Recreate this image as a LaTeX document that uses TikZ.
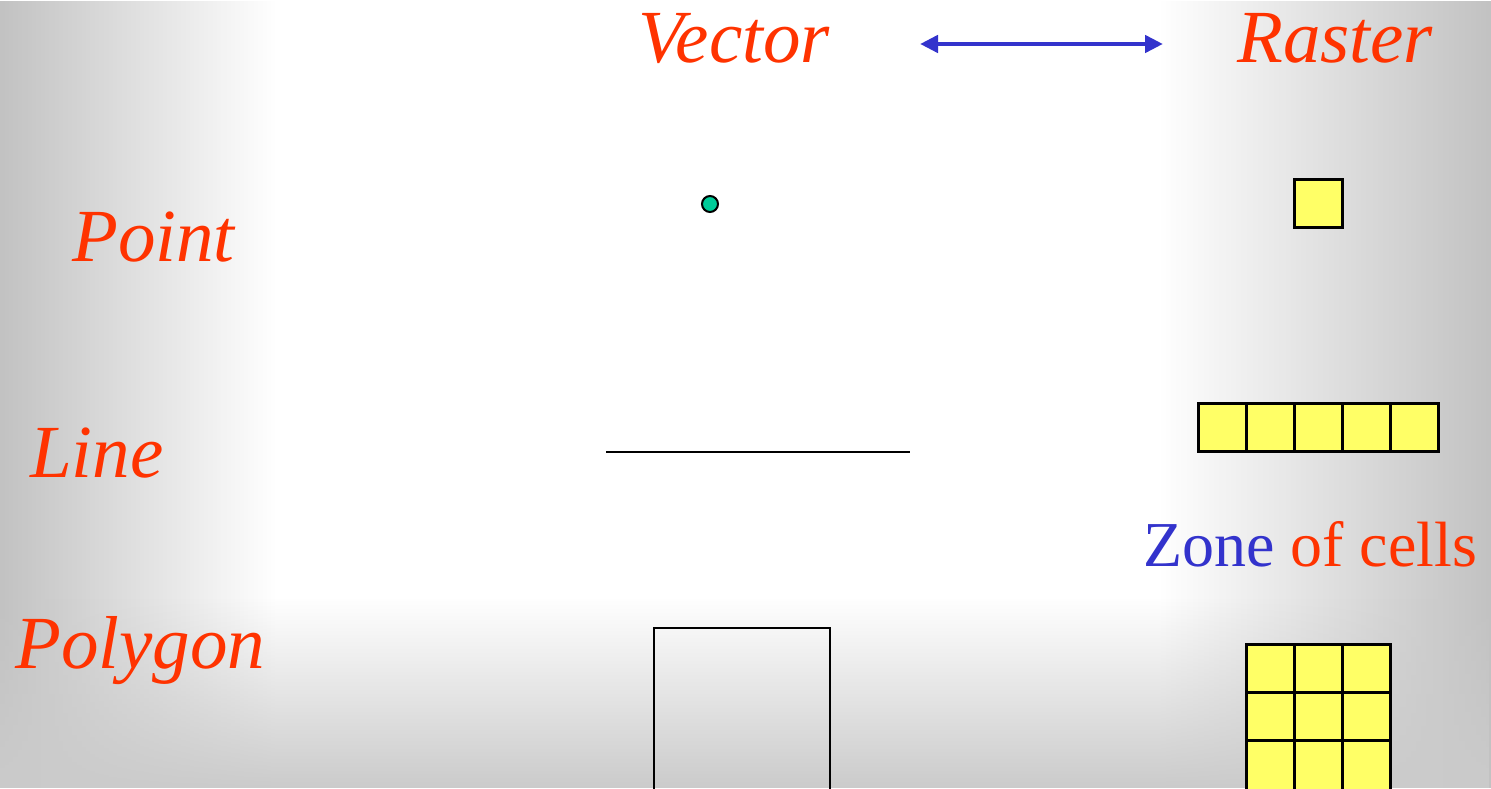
\documentclass[tikz,border=0pt]{standalone}
\usepackage{fontspec}
\setmainfont{Liberation Serif}
\usepackage{xcolor}
\usetikzlibrary{arrows.meta,fadings}

\definecolor{lblred}{HTML}{FF3300}
\definecolor{arrowblue}{HTML}{3333CC}
\definecolor{cellyellow}{HTML}{FFFF66}
\definecolor{dotgreen}{HTML}{00CC99}
\definecolor{edgegray}{gray}{0.76}

\tikzfading[name=fade right,left color=transparent!0,right color=transparent!100]
\tikzfading[name=fade left,left color=transparent!100,right color=transparent!0]
\tikzfading[name=fade top,top color=transparent!100,bottom color=transparent!0]

\begin{document}
\begin{tikzpicture}[x=1pt,y=1pt,>={Triangle[length=18pt,width=17pt]},
  every node/.style={inner sep=0pt},
  lbl/.style={anchor=base west,text=lblred,font=\fontsize{75}{80}\selectfont\itshape},
  cell/.style={draw=black,fill=cellyellow,line width=3pt}]
\useasboundingbox (0,0) rectangle (1491,788);
% background
\fill[white] (0,0) rectangle (1491,788);
\fill[edgegray,path fading=fade right] (0,0) rectangle (275,788);
\fill[edgegray,path fading=fade left] (1160,0) rectangle (1491,788);
\fill[edgegray!85,path fading=fade top] (0,0) rectangle (1491,190);
% headings
\node[lbl] (vector) at (638,725) {Vector};
\node[lbl] (raster) at (1237,725) {Raster};
\coordinate (aL) at (920,744);
\coordinate (aR) at (1163,744);
\draw[<->,arrowblue,line width=4.5pt] (aL) -- (aR);
% row labels
\node[lbl] (point) at (72,526) {Point};
\node[lbl] (line) at (30,310) {Line};
\node[lbl] (polygon) at (15,120) {Polygon};
% vector side
\node[circle,draw=black,fill=dotgreen,line width=2pt,minimum size=16pt] (dot) at (710,584) {};
\coordinate (l0) at (606,336);
\coordinate (l1) at (910,336);
\draw[line width=2.5pt] (l0) -- (l1);
\draw[line width=2pt] (654,-6) rectangle (830,160);
% raster side
\draw[cell] (1294,560) rectangle (1342,608);
\draw[cell] (1198,336) rectangle (1246,384);
\draw[cell] (1246,336) rectangle (1294,384);
\draw[cell] (1294,336) rectangle (1342,384);
\draw[cell] (1342,336) rectangle (1390,384);
\draw[cell] (1390,336) rectangle (1438,384);
\node[anchor=base west,font=\fontsize{64}{70}\selectfont] (zone) at (1143,222)
  {\textcolor{arrowblue}{Zone} \textcolor{lblred}{of cells}};
\draw[cell] (1246,96) rectangle (1294,144);
\draw[cell] (1294,96) rectangle (1342,144);
\draw[cell] (1342,96) rectangle (1390,144);
\draw[cell] (1246,48) rectangle (1294,96);
\draw[cell] (1294,48) rectangle (1342,96);
\draw[cell] (1342,48) rectangle (1390,96);
\draw[cell] (1246,-6) rectangle (1294,48);
\draw[cell] (1294,-6) rectangle (1342,48);
\draw[cell] (1342,-6) rectangle (1390,48);
\end{tikzpicture}
\end{document}
